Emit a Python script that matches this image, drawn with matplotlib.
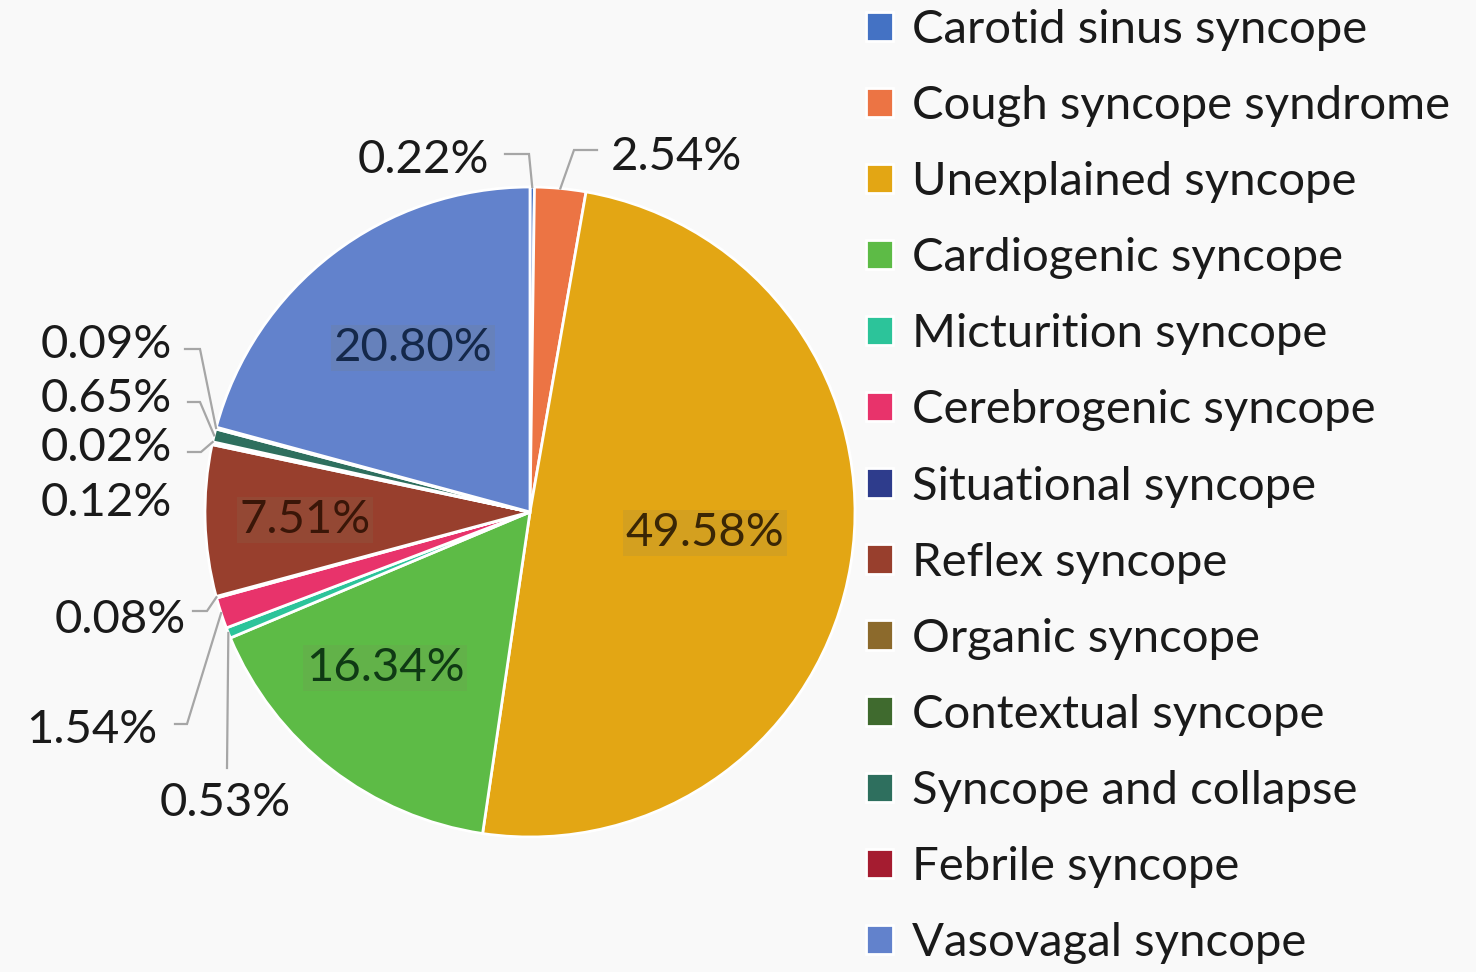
import numpy as np
import matplotlib
matplotlib.use('Agg')
import matplotlib.pyplot as plt

plt.rcParams['font.family'] = ['Lato', 'DejaVu Sans']

# ---- data (clockwise from 12 o'clock) ----
categories = ['Carotid sinus syncope', 'Cough syncope syndrome',
              'Unexplained syncope', 'Cardiogenic syncope',
              'Micturition syncope', 'Cerebrogenic syncope',
              'Situational syncope', 'Reflex syncope', 'Organic syncope',
              'Contextual syncope', 'Syncope and collapse',
              'Febrile syncope', 'Vasovagal syncope']
shares = [0.22, 2.54, 49.58, 16.34, 0.53, 1.54, 0.08, 7.51, 0.12, 0.02,
          0.65, 0.09, 20.80]
colors = ['#4472C4', '#EC7444', '#E3A614', '#5DBB46', '#2CC49A', '#E8336B',
          '#2E3C8C', '#983F2D', '#8C6A2C', '#3F6A2E', '#2E6F5E', '#A51C30',
          '#6282CC']

# ---- layout (pixel positions of the labels in the 1476x972 canvas) ----
CX, CY, R = 530, 512, 325
inside_pos = {2: (705, 533), 3: (385, 668), 7: (305, 520), 12: (413, 348)}
inside_col = {2: '#3a2605', 3: '#0f3a14', 7: '#3a1608', 12: '#14284a'}
# index: (text centre, leader start, elbow)
outside_pos = {
    0: ((423, 160), (505, 154), (529, 154)),
    1: ((676, 157), (597, 150), (574, 150)),
    11: ((106, 345), (185, 349), (200, 349)),
    10: ((106, 399), (188, 402), (200, 402)),
    9: ((106, 448), (188, 452), (201, 452)),
    8: ((106, 503), None, None),
    6: ((120, 620), (193, 611), (207, 611)),
    5: ((92, 730), (175, 724), (187, 724)),
    4: ((225, 803), (227, 768), (227, 768)),
}


def px(x, y):
    # canvas pixel -> data coords (pie radius = 1)
    return (x - CX) / R, (CY - y) / R


fig = plt.figure(figsize=(14.76, 9.72), dpi=100, facecolor='#F9F9F9')
ax = fig.add_axes([(CX - R) / 1476, (972 - CY - R) / 972,
                   2 * R / 1476, 2 * R / 972])
ax.set_facecolor('none')

wedges, _ = ax.pie(shares, colors=colors, startangle=90, counterclock=False,
                   radius=1.0, wedgeprops=dict(edgecolor='white', lw=2))
ax.set_xlim(-1, 1)
ax.set_ylim(-1, 1)
ax.set_aspect('equal')
ax.axis('off')

fs = 34
for i, (x, y) in inside_pos.items():
    tx, ty = px(x, y)
    ax.text(tx, ty, f'{shares[i]:.2f}%', ha='center', va='center',
            fontsize=fs, color=inside_col[i],
            bbox=dict(boxstyle='square,pad=0.05', fc='#808060', ec='none',
                      alpha=0.15))

for i, (tpos, start, elbow) in outside_pos.items():
    tx, ty = px(*tpos)
    ax.text(tx, ty, f'{shares[i]:.2f}%', ha='center', va='center',
            fontsize=fs, color='#1a1a1a', clip_on=False)
    if start is None:
        continue
    w = wedges[i]
    mid = np.deg2rad((w.theta1 + w.theta2) / 2)
    ex, ey = np.cos(mid), np.sin(mid)
    sx, sy = px(*start)
    bx, by = px(*elbow)
    ax.plot([sx, bx, ex], [sy, by, ey], color='#A6A6A6', lw=1.6,
            clip_on=False, solid_joinstyle='miter')

leg = fig.legend(wedges, categories, loc='upper left',
                 bbox_to_anchor=(866 / 1476, 1 - 9 / 972), frameon=False,
                 fontsize=fs, handlelength=0.58, handleheight=0.58,
                 handletextpad=0.40, labelspacing=0.722, borderaxespad=0,
                 borderpad=0)
for t in leg.get_texts():
    t.set_color('#1a1a1a')

fig.savefig('out.png', dpi=100, facecolor=fig.get_facecolor())
